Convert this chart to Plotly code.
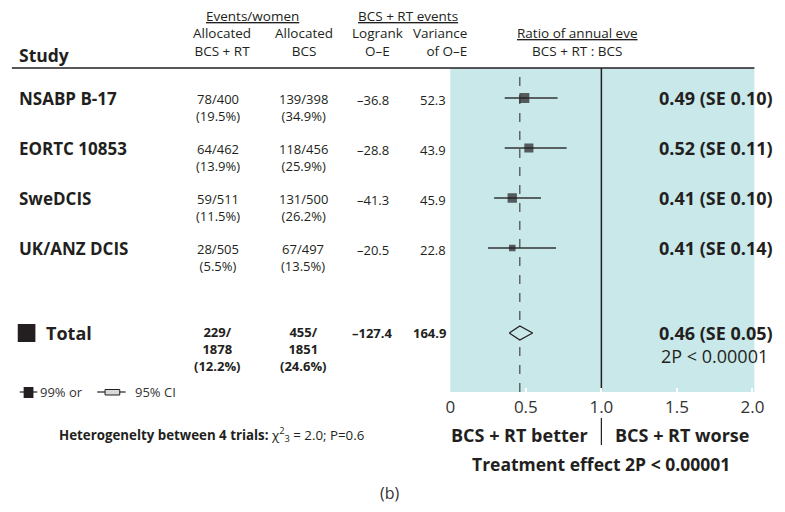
import plotly.graph_objects as go

# ---------------- data ----------------
studies = ["NSABP B-17", "EORTC 10853", "SweDCIS", "UK/ANZ DCIS"]
rt_events = ["78/400", "64/462", "59/511", "28/505"]
rt_pct = ["(19.5%)", "(13.9%)", "(11.5%)", "(5.5%)"]
bcs_events = ["139/398", "118/456", "131/500", "67/497"]
bcs_pct = ["(34.9%)", "(25.9%)", "(26.2%)", "(13.5%)"]
logrank_oe = ["–36.8", "–28.8", "–41.3", "–20.5"]
variance_oe = [52.3, 43.9, 45.9, 22.8]
ratio = [0.49, 0.52, 0.41, 0.41]
ci_low = [0.36, 0.36, 0.29, 0.25]
ci_high = [0.71, 0.77, 0.60, 0.70]
ratio_labels = ["0.49 (SE 0.10)", "0.52 (SE 0.11)", "0.41 (SE 0.10)", "0.41 (SE 0.14)"]

total_rt = ["229/", "1878", "(12.2%)"]
total_bcs = ["455/", "1851", "(24.6%)"]
total_logrank = "–127.4"
total_variance = "164.9"
total_ratio = 0.46
total_low = 0.39
total_high = 0.545
total_label = "0.46 (SE 0.05)"
total_p = "2P < 0.00001"

tick_vals = [0, 0.5, 1.0, 1.5, 2.0]
tick_text = ["0", "0.5", "1.0", "1.5", "2.0"]

# ---------------- layout helpers ----------------
W, H = 785, 512
FONT = "Open Sans"
INK = "#231f20"
TEAL = "#c8e8ea"

def px(x):
    return x / W

def py(y):
    return 1 - y / H

row_y = list(range(len(studies)))
total_y = 4.7

fig = go.Figure()

# error bars (99% CI) + squares sized by variance
sizes = [1.38 * v ** 0.5 for v in variance_oe]
fig.add_trace(go.Scatter(
    x=ratio, y=row_y, mode="markers",
    marker=dict(symbol="square", size=sizes, color=INK, line=dict(width=0)),
    error_x=dict(type="data", symmetric=False,
                 array=[h - r for h, r in zip(ci_high, ratio)],
                 arrayminus=[r - l for r, l in zip(ratio, ci_low)],
                 color="#333333", thickness=1.4, width=0),
    hoverinfo="skip", showlegend=False,
))

# total diamond (95% CI), hides the dashed line inside it
fig.add_trace(go.Scatter(
    x=[total_low, total_ratio, total_high, total_ratio, total_low],
    y=[total_y, total_y - 0.14, total_y, total_y + 0.14, total_y],
    mode="lines", line=dict(color=INK, width=1.3),
    fill="toself", fillcolor=TEAL,
    hoverinfo="skip", showlegend=False,
))

fig.update_layout(
    width=W, height=H,
    margin=dict(l=0, r=0, t=0, b=0),
    paper_bgcolor="white",
    plot_bgcolor=TEAL,
    font=dict(family=FONT, color=INK),
    xaxis=dict(domain=[px(454), px(764)], range=[0, 2.013],
               tickvals=tick_vals, ticktext=tick_text,
               ticks="inside", ticklen=4, tickwidth=2, tickcolor="white",
               showgrid=False, zeroline=False, showline=False,
               tickfont=dict(size=17, color="#333333"),
               ticklabelstandoff=3, fixedrange=True),
    yaxis=dict(domain=[py(392), py(68)], range=[5.88, -0.6],
               visible=False, showgrid=False, zeroline=False, fixedrange=True),
)

shapes = []
# header rule
shapes.append(dict(type="line", xref="paper", yref="paper",
                   x0=px(7), x1=px(764), y0=py(68), y1=py(68),
                   line=dict(color=INK, width=1.5)))
# line of no effect
shapes.append(dict(type="line", xref="x", yref="paper", layer="below",
                   x0=1.0, x1=1.0, y0=py(390), y1=py(68),
                   line=dict(color=INK, width=1.5)))
# overall effect dashed line
shapes.append(dict(type="line", xref="x", yref="paper", layer="below",
                   x0=total_ratio, x1=total_ratio, y0=py(392), y1=py(68),
                   line=dict(color="#444444", width=1.2, dash="dash")))
# better / worse separator
shapes.append(dict(type="line", xref="x", yref="paper",
                   x0=1.0, x1=1.0, y0=py(445), y1=py(418),
                   line=dict(color=INK, width=1.2)))
# total square
shapes.append(dict(type="rect", xref="paper", yref="paper",
                   x0=px(13), x1=px(31), y0=py(342), y1=py(324),
                   fillcolor=INK, line=dict(width=0)))
# legend keys
shapes.append(dict(type="line", xref="paper", yref="paper",
                   x0=px(15), x1=px(33), y0=py(392), y1=py(392),
                   line=dict(color=INK, width=1.2)))
shapes.append(dict(type="rect", xref="paper", yref="paper",
                   x0=px(19), x1=px(29), y0=py(398), y1=py(387),
                   fillcolor=INK, line=dict(width=0)))
shapes.append(dict(type="line", xref="paper", yref="paper",
                   x0=px(94), x1=px(123), y0=py(392), y1=py(392),
                   line=dict(color=INK, width=1.2)))
shapes.append(dict(type="rect", xref="paper", yref="paper",
                   x0=px(102), x1=px(117), y0=py(395), y1=py(389.5),
                   fillcolor="#d9d9d9", line=dict(color=INK, width=1)))
fig.update_layout(shapes=shapes)

ann = []

def add(text, x, y, size=12, xanchor="center", yref="paper", bold=False,
        color=INK, yanchor="middle"):
    ann.append(dict(text=("<b>%s</b>" % text) if bold else text,
                    x=px(x), y=y if yref == "y" else py(y),
                    xref="paper", yref=yref, xanchor=xanchor, yanchor=yanchor,
                    align=xanchor if xanchor != "center" else "center",
                    showarrow=False, font=dict(size=size, color=color, family=FONT)))

# header
add("Study", 12, 55, size=17.5, xanchor="left", bold=True)
add("<u>Events/women</u>", 252, 15.5, size=13.5)
add("Allocated<br>BCS + RT", 221, 42, size=13.5)
add("Allocated<br>BCS", 305, 42, size=13.5)
add("<u>BCS + RT events</u>", 411, 15.5, size=13.5)
add("Logrank<br>O–E", 380, 42, size=13.5)
add("Variance<br>of O–E", 473, 42, size=13.5, xanchor="right")
add("<u>Ratio of annual eve</u><br>BCS + RT : BCS", 584, 42, size=13.5)

# rows
for i, s in enumerate(studies):
    add(s, 12, row_y[i], size=17, xanchor="left", yref="y", bold=True)
    add(rt_events[i] + "<br>" + rt_pct[i], 217, row_y[i] + 0.19, size=13, yref="y")
    add(bcs_events[i] + "<br>" + bcs_pct[i], 304, row_y[i] + 0.19, size=13, yref="y")
    add(logrank_oe[i], 394, row_y[i] + 0.03, size=13, xanchor="right", yref="y")
    add("%.1f" % variance_oe[i], 452, row_y[i] + 0.03, size=13, xanchor="right", yref="y")
    add(ratio_labels[i], 785, row_y[i], size=18, xanchor="right", yref="y", bold=True)

# total row
add("Total", 40, total_y, size=18, xanchor="left", yref="y", bold=True)
add("<br>".join(total_rt), 217, total_y + 0.31, size=13, yref="y", bold=True)
add("<br>".join(total_bcs), 304, total_y + 0.31, size=13, yref="y", bold=True)
add(total_logrank, 398, total_y, size=13, xanchor="right", yref="y", bold=True)
add(total_variance, 452, total_y, size=13, xanchor="right", yref="y", bold=True)
add(total_label, 785, total_y, size=18, xanchor="right", yref="y", bold=True)
add(total_p, 780, 356, size=18, xanchor="right")

# legend text
add("99% or", 34, 392, size=13, xanchor="left", color="#333333")
add("95% CI", 130, 392, size=13, xanchor="left", color="#333333")

# heterogeneity
add("<b>Heterogenelty between 4 trials:</b> χ<sup>2</sup><sub>3</sub> = 2.0; P=0.6",
    53, 434, size=13.3, xanchor="left")

# bottom labels
add("BCS + RT better", 525, 435, size=18, bold=True)
add("BCS + RT worse", 690, 435, size=18, bold=True)
add("Treatment effect 2P < 0.00001", 608, 464, size=17.5, bold=True)
add("(b)", 392, 493, size=16, color="#333333")

fig.update_layout(annotations=ann)
fig.write_html("out.html")
